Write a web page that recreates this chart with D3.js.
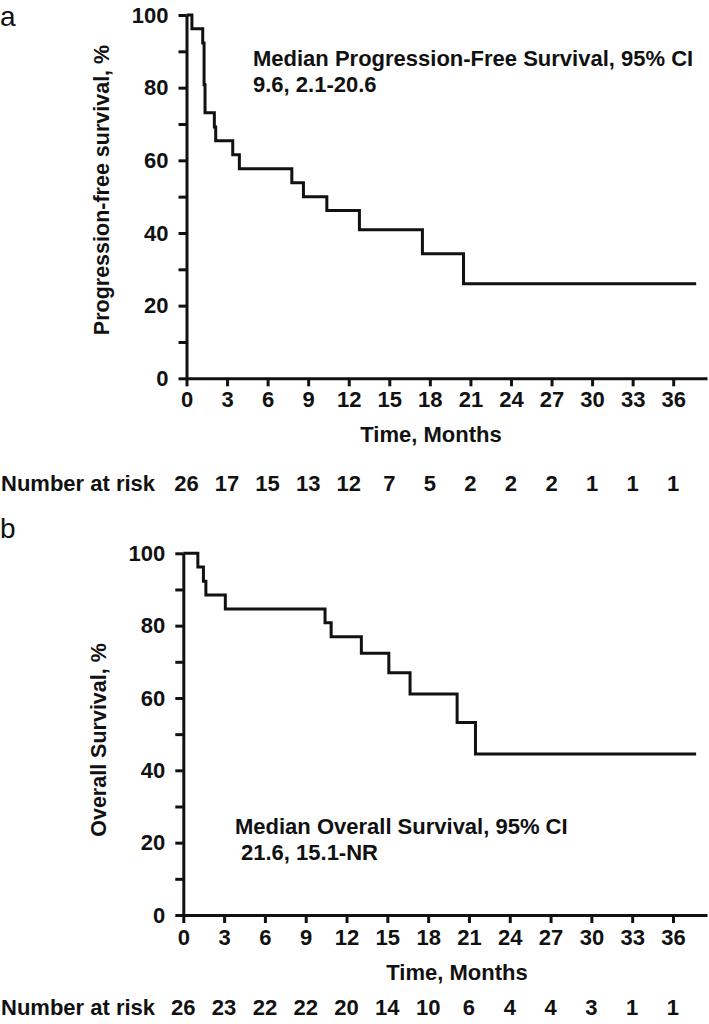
<!DOCTYPE html>
<html>
<head>
<meta charset="utf-8">
<script src="https://cdn.jsdelivr.net/npm/d3@7"></script>
<style>
  body { margin: 0; background: #fff; }
  svg text { font-family: "Liberation Sans", Arial, sans-serif; font-weight: bold; fill: #111; }
  .axis .domain, .axis .tick line { stroke: #111; stroke-width: 3; }
  .axis text { font-size: 22px; }
</style>
</head>
<body>
<svg id="chart" width="709" height="1024"></svg>
<script>
// x ticks (months) and y ticks (%)
var months = [0, 3, 6, 9, 12, 15, 18, 21, 24, 27, 30, 33, 36];
var yTicks = [0, 10, 20, 30, 40, 50, 60, 70, 80, 90, 100];

// progression-free survival steps
var pfsTime = [0, 0.4, 1.2, 1.3, 1.37, 2.06, 2.16, 3.42, 3.91, 7.79, 8.65, 10.38, 12.79, 17.45, 20.49, 37.7];
var pfsSurv = [100, 96.2, 92.3, 80.8, 73.1, 69.2, 65.4, 61.5, 57.7, 53.8, 50.0, 46.2, 40.9, 34.3, 26.0, 26.0];
var pfsAtRisk = [26, 17, 15, 13, 12, 7, 5, 2, 2, 2, 1, 1, 1];

// overall survival steps
var osTime = [0, 1.07, 1.48, 1.66, 3.09, 10.42, 10.87, 13.09, 15.11, 16.67, 20.13, 21.48, 37.7];
var osSurv = [100, 96.2, 92.3, 88.5, 84.6, 80.8, 76.9, 72.4, 67.0, 61.1, 53.2, 44.5, 44.5];
var osAtRisk = [26, 23, 22, 22, 20, 14, 10, 6, 4, 4, 3, 1, 1];

var svg = d3.select("#chart");

function drawPanel(p) {
  var g = svg.append("g");

  var x = d3.scaleLinear().domain([0, 38.5]).range([p.left, 707]);
  var y = d3.scaleLinear().domain([0, 100]).range([p.bottom, p.top]);

  // panel letter
  g.append("text")
    .attr("x", 0).attr("y", p.letterY)
    .style("font-weight", "normal").style("font-size", "28px")
    .text(p.letter);

  // Y axis
  g.append("g")
    .attr("class", "axis")
    .attr("transform", `translate(${p.left},0)`)
    .call(d3.axisLeft(y).tickValues(yTicks).tickSize(8).tickSizeOuter(0).tickPadding(10)
      .tickFormat(d => d % 20 === 0 ? d : ""));

  // X axis
  g.append("g")
    .attr("class", "axis")
    .attr("transform", `translate(0,${p.bottom})`)
    .call(d3.axisBottom(x).tickValues(months).tickSize(8).tickSizeOuter(0).tickPadding(p.xPad));

  g.selectAll(".axis text").attr("fill", "#111");

  // y title
  g.append("text")
    .attr("transform", `translate(${p.titleX},${p.titleY}) rotate(-90)`)
    .attr("text-anchor", "middle")
    .style("font-size", "21.5px")
    .text(p.yTitle);

  // x title
  g.append("text")
    .attr("x", p.xTitleX).attr("y", p.xTitleY)
    .attr("text-anchor", "middle")
    .style("font-size", "22px")
    .text("Time, Months");

  // KM step curve
  var pts = p.time.map((t, i) => [t, p.surv[i]]);
  g.append("path")
    .datum(pts)
    .attr("fill", "none")
    .attr("stroke", "#111")
    .attr("stroke-width", 3)
    .attr("d", d3.line().curve(d3.curveStepAfter).x(d => x(d[0])).y(d => y(d[1])));

  // median annotation
  p.note.forEach(function(line, i) {
    g.append("text")
      .attr("x", p.noteX[i]).attr("y", p.noteY + i * 26)
      .style("font-size", "22px")
      .text(line);
  });

  // number at risk
  g.append("text")
    .attr("x", 1).attr("y", p.riskY)
    .style("font-size", "22px")
    .text("Number at risk");

  g.selectAll("risk")
    .data(p.atRisk)
    .enter()
    .append("text")
    .attr("x", (d, i) => x(months[i]))
    .attr("y", p.riskY)
    .attr("text-anchor", "middle")
    .style("font-size", "22px")
    .text(d => d);
}

drawPanel({
  letter: "a", letterY: 26, left: 186.5, top: 15, bottom: 378.3, xPad: 5,
  yTitle: "Progression-free survival, %", titleX: 109, titleY: 190,
  xTitleX: 431, xTitleY: 442,
  time: pfsTime, surv: pfsSurv, atRisk: pfsAtRisk, riskY: 491,
  note: ["Median Progression-Free Survival, 95% CI", "9.6, 2.1-20.6"],
  noteX: [253, 253], noteY: 66
});

drawPanel({
  letter: "b", letterY: 538, left: 183.3, top: 553.3, bottom: 915, xPad: 6,
  yTitle: "Overall Survival, %", titleX: 106, titleY: 740,
  xTitleX: 457, xTitleY: 980,
  time: osTime, surv: osSurv, atRisk: osAtRisk, riskY: 1015,
  note: ["Median Overall Survival, 95% CI", "21.6, 15.1-NR"],
  noteX: [235, 241], noteY: 834
});
</script>
</body>
</html>
